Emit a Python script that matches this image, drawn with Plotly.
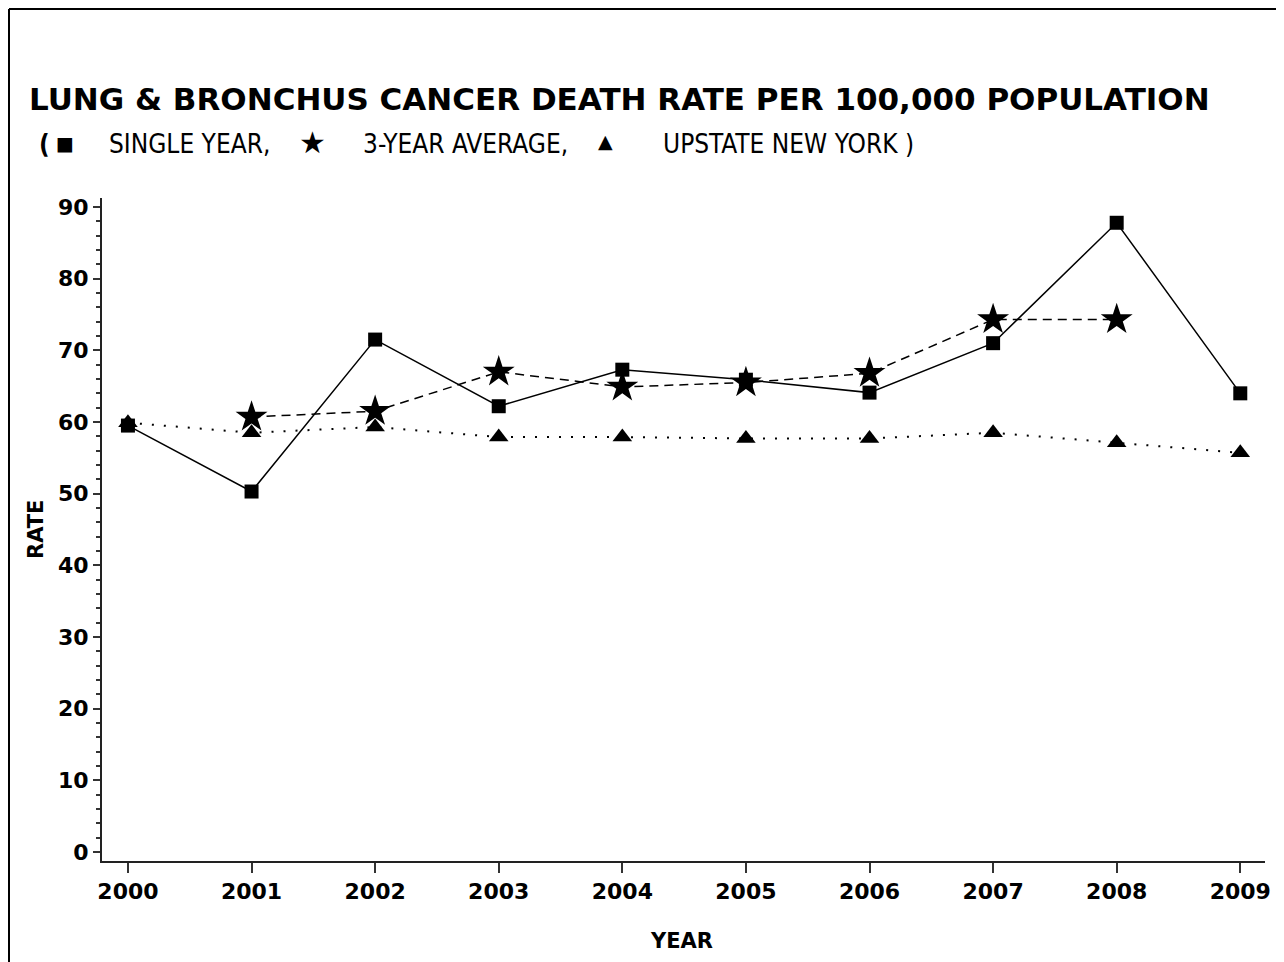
import plotly.graph_objects as go

years = [2000, 2001, 2002, 2003, 2004, 2005, 2006, 2007, 2008, 2009]
single_year = [59.5, 50.3, 71.5, 62.2, 67.3, 65.9, 64.1, 71.0, 87.8, 64.0]
avg_years = [2001, 2002, 2003, 2004, 2005, 2006, 2007, 2008]
three_year_avg = [60.7, 61.5, 67.0, 64.9, 65.5, 66.8, 74.3, 74.3]
upstate_ny = [59.9, 58.5, 59.3, 57.9, 57.9, 57.7, 57.7, 58.5, 57.1, 55.7]

title_text = "LUNG & BRONCHUS CANCER DEATH RATE PER 100,000 POPULATION"
legend_labels = ["SINGLE YEAR,", "3-YEAR AVERAGE,", "UPSTATE NEW YORK )"]
y_ticks = [0, 10, 20, 30, 40, 50, 60, 70, 80, 90]

OFF = 8  # page body margin
W, H = 1284 - OFF, 962 - OFF
L, T = 102 - OFF, 198 - OFF
R = W - (1265 - OFF)
B = H - (861 - OFF)
PW, PH = W - L - R, H - T - B


def px(x):
    return (x - OFF - L) / PW


def py(y):
    return (H - B - (y - OFF)) / PH


fig = go.Figure()

fig.add_trace(go.Scatter(
    x=years, y=single_year, mode="lines+markers",
    line=dict(color="black", width=1.5),
    marker=dict(symbol="square", size=14, color="black"),
    name="SINGLE YEAR", cliponaxis=False))

fig.add_trace(go.Scatter(
    x=years, y=upstate_ny, mode="lines+markers",
    line=dict(color="black", width=2, dash="2px,10px"),
    marker=dict(symbol="triangle-up", size=17, color="black"),
    name="UPSTATE NEW YORK", cliponaxis=False))

fig.add_trace(go.Scatter(
    x=avg_years, y=three_year_avg, mode="lines+markers",
    line=dict(color="black", width=1.5, dash="9px,6px"),
    marker=dict(symbol="star", size=24, color="black"),
    name="3-YEAR AVERAGE", cliponaxis=False))

tickfont = dict(family="DejaVu Sans", size=22, color="black", weight="bold")

fig.update_xaxes(
    range=[1999.79, 2009.2], tickmode="array", tickvals=years,
    ticktext=[str(y) for y in years],
    showline=True, linecolor="#222", linewidth=2,
    ticks="outside", ticklen=10, tickwidth=2, tickcolor="#333",
    showgrid=False, zeroline=False, tickfont=tickfont)

fig.update_yaxes(
    range=[-1.256, 91.256], tickmode="array", tickvals=y_ticks,
    showline=True, linecolor="#222", linewidth=2,
    ticks="outside", ticklen=7, tickwidth=2, tickcolor="#333",
    minor=dict(dtick=2, ticks="outside", ticklen=4, tickwidth=1.5, tickcolor="#333"),
    showgrid=False, zeroline=False, tickfont=tickfont)

narrow = "Liberation Sans Narrow, DejaVu Sans Condensed"
annotations = [
    dict(text=title_text, x=px(27), y=py(99), xanchor="left", yanchor="middle",
         font=dict(family="DejaVu Sans", size=31, color="black", weight="bold")),
    dict(text="(", x=px(37), y=py(144), xanchor="left", yanchor="middle",
         font=dict(family=narrow, size=26, color="black", weight="bold")),
    dict(text="■", x=px(65), y=py(143), xanchor="center", yanchor="middle",
         font=dict(family="DejaVu Sans", size=19, color="black")),
    dict(text=legend_labels[0], x=px(107), y=py(144), xanchor="left", yanchor="middle",
         font=dict(family=narrow, size=26, color="black")),
    dict(text="★", x=px(312), y=py(142), xanchor="center", yanchor="middle",
         font=dict(family="DejaVu Sans", size=30, color="black")),
    dict(text=legend_labels[1], x=px(361), y=py(144), xanchor="left", yanchor="middle",
         font=dict(family=narrow, size=26, color="black")),
    dict(text="▲", x=px(605), y=py(141), xanchor="center", yanchor="middle",
         font=dict(family="DejaVu Sans", size=19, color="black")),
    dict(text=legend_labels[2], x=px(661), y=py(144), xanchor="left", yanchor="middle",
         font=dict(family=narrow, size=26, color="black")),
    dict(text="RATE", x=px(36), y=py(530), xanchor="center", yanchor="middle", textangle=-90,
         font=dict(family="DejaVu Sans", size=21, color="black", weight="bold")),
    dict(text="YEAR", x=px(681), y=py(941), xanchor="center", yanchor="middle",
         font=dict(family="DejaVu Sans", size=21, color="black", weight="bold")),
]
for a in annotations:
    a.update(xref="paper", yref="paper", showarrow=False)

# outer frame (left and top edges), drawn at the page's first visible pixels
fx, fy = px(OFF + 1), py(OFF + 1)
shapes = [
    dict(type="line", xref="paper", yref="paper", x0=fx, x1=fx, y0=py(980), y1=fy,
         line=dict(color="black", width=2)),
    dict(type="line", xref="paper", yref="paper", x0=fx, x1=px(1283), y0=fy, y1=fy,
         line=dict(color="black", width=2)),
]

fig.update_layout(
    width=W, height=H,
    margin=dict(l=L, r=R, t=T, b=B, autoexpand=False),
    paper_bgcolor="white", plot_bgcolor="white",
    showlegend=False,
    annotations=annotations, shapes=shapes,
    font=dict(family="DejaVu Sans", color="black"),
)

fig.write_html("out.html")
